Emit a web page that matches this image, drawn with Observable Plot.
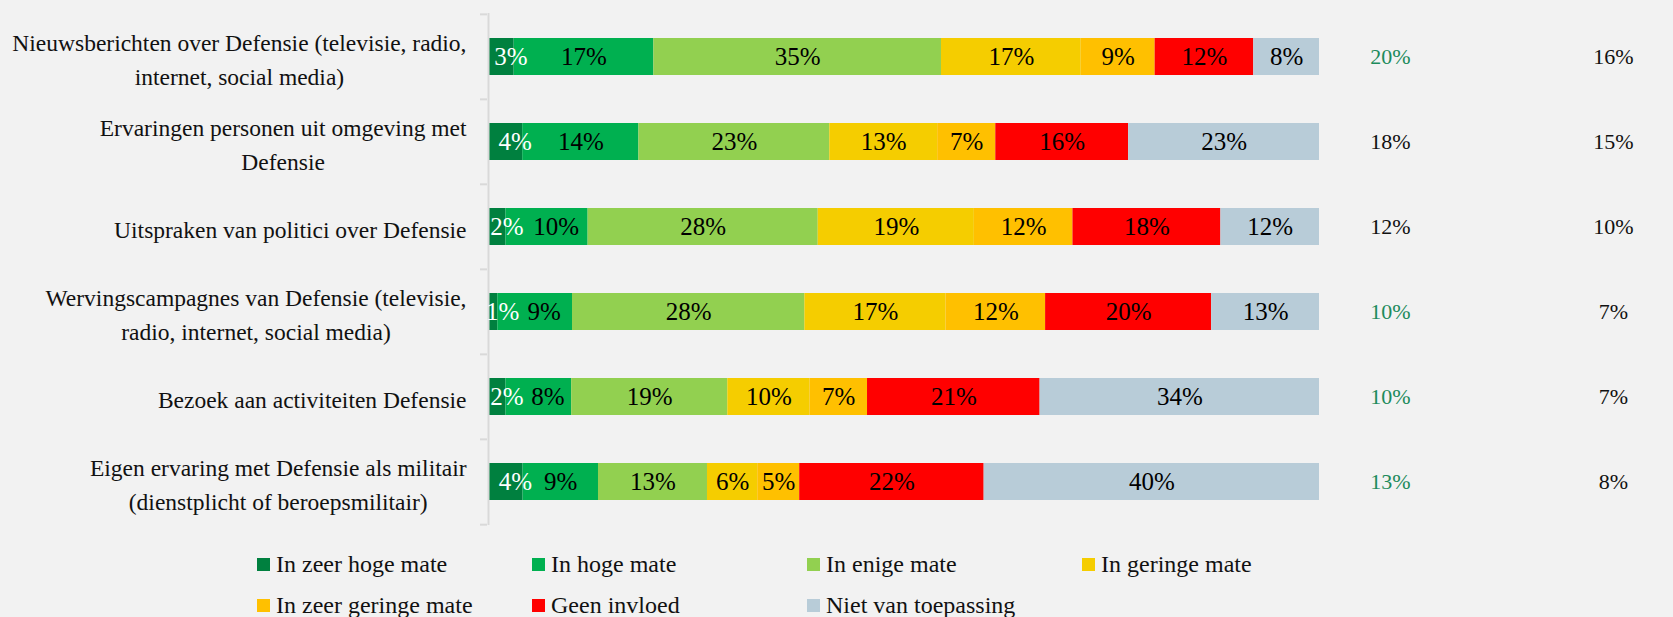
<!DOCTYPE html>
<html><head><meta charset="utf-8">
<script src="https://cdn.jsdelivr.net/npm/d3@7"></script>
<script src="https://cdn.jsdelivr.net/npm/@observablehq/plot@0.6"></script>
<style>
html,body{margin:0;padding:0;background:#f2f2f2;overflow:hidden}
#chart{width:1673px;height:530px}
#legend{display:grid;grid-template-columns:repeat(4,275px);grid-auto-rows:41px;margin-left:257px;padding-top:14px;font-family:"Liberation Serif",serif;font-size:24px;color:#111}
#legend .item{display:flex;align-items:center;white-space:nowrap}
#legend .sw{width:13px;height:13px;margin-right:6px;flex:none}
</style></head><body>
<div id="chart"></div>
<div id="legend"></div>
<script>
const categories = [
  "Nieuwsberichten over Defensie (televisie, radio,\ninternet, social media)",
  "Ervaringen personen uit omgeving met\nDefensie",
  "Uitspraken van politici over Defensie",
  "Wervingscampagnes van Defensie (televisie,\nradio, internet, social media)",
  "Bezoek aan activiteiten Defensie",
  "Eigen ervaring met Defensie als militair\n(dienstplicht of beroepsmilitair)"
];
const series = ["In zeer hoge mate","In hoge mate","In enige mate","In geringe mate","In zeer geringe mate","Geen invloed","Niet van toepassing"];
const zeerHoog   = [3, 4, 2, 1, 2, 4];
const hoog       = [17, 14, 10, 9, 8, 9];
const enige      = [35, 23, 28, 28, 19, 13];
const gering     = [17, 13, 19, 17, 10, 6];
const zeerGering = [9, 7, 12, 12, 7, 5];
const geen       = [12, 16, 18, 20, 21, 22];
const nvt        = [8, 23, 12, 13, 34, 40];
const colA = [20, 18, 12, 10, 10, 13];
const colB = [16, 15, 10, 7, 7, 8];
const colASignificant = [true, false, false, true, true, true];
const colors = ["#00803f","#00b050","#92d050","#f5cd00","#ffc000","#ff0000","#b8ccd8"];

const seriesValues = [zeerHoog, hoog, enige, gering, zeerGering, geen, nvt];
const rows = [];
categories.forEach((c, i) => {
  const total = d3.sum(seriesValues, v => v[i]);
  seriesValues.forEach((vals, j) => rows.push({cat: c, series: series[j], value: vals[i], idx: j, total, first: zeerHoog[i]}));
});
const firstRows = rows.filter(d => d.idx === 0);
const secondRows = rows.filter(d => d.idx === 1);
const font = "'Liberation Serif', 'Times New Roman', serif";
const step = 512 / categories.length;
// labels of the two narrow leading segments are nudged right (as in the original) to stay readable
const nudge = 0.011;

const plot = Plot.plot({
  width: 1673, height: 530,
  marginLeft: 489, marginRight: 354, marginTop: 13, marginBottom: 5,
  style: {background: "transparent", fontFamily: font, color: "#000"},
  x: {domain: [0, 1], axis: null},
  y: {domain: categories, paddingInner: 0.57, paddingOuter: 0.285, label: null},
  color: {domain: series, range: colors},
  marks: [
    Plot.barX(rows, Plot.stackX({offset: "normalize", x: "value", y: "cat", fill: "series"})),
    Plot.ruleX([0], {stroke: "#d9d9d9", strokeWidth: 2, dx: -1}),
    Plot.axisY({tickSize: 7, tickFormat: () => "", label: null, stroke: "#d9d9d9", strokeWidth: 2, dy: -step / 2, dx: -2}),
    Plot.axisY([categories[categories.length - 1]], {tickSize: 7, tickFormat: () => "", label: null, stroke: "#d9d9d9", strokeWidth: 2, dy: step / 2, dx: -2}),
    Plot.axisY({tickSize: 0, tickPadding: 23, label: null, fontSize: 23.5, lineHeight: 1.47, fill: "#111"}),
    Plot.text(rows, Plot.stackX({offset: "normalize", x: "value", y: "cat", z: "series",
      text: d => d.idx <= 1 ? "" : d.value + "%", fill: "#000", fontSize: 25})),
    Plot.text(firstRows, {x: d => d.value / (2 * d.total) + nudge, y: "cat",
      text: d => d.value + "%", fill: "#fff", fontSize: 25}),
    Plot.text(secondRows, {x: d => (d.first + d.value / 2) / d.total + (d.first <= 2 ? nudge : 0), y: "cat",
      text: d => d.value + "%", fill: "#000", fontSize: 25}),
    Plot.text(categories, {y: d => d, frameAnchor: "right", textAnchor: "middle", dx: 71, fontSize: 22,
      text: (d, i) => colA[i] + "%", fill: (d, i) => colASignificant[i] ? "#1d8b5c" : "#111"}),
    Plot.text(categories, {y: d => d, frameAnchor: "right", textAnchor: "middle", dx: 294, fontSize: 22,
      text: (d, i) => colB[i] + "%", fill: "#111"})
  ]
});
document.getElementById("chart").appendChild(plot);

// center multi-line category labels relative to each other (right-aligned block)
d3.select(plot).selectAll("text").each(function() {
  const tspans = this.querySelectorAll("tspan");
  if (tspans.length < 2) return;
  const w = d3.max(Array.from(tspans), t => t.getComputedTextLength());
  this.setAttribute("text-anchor", "middle");
  tspans.forEach(t => t.setAttribute("x", -w / 2));
});

const legend = d3.select("#legend");
series.forEach((s, i) => {
  const it = legend.append("div").attr("class", "item");
  it.append("div").attr("class", "sw").style("background", colors[i]);
  it.append("span").text(s);
});
</script>
</body></html>
